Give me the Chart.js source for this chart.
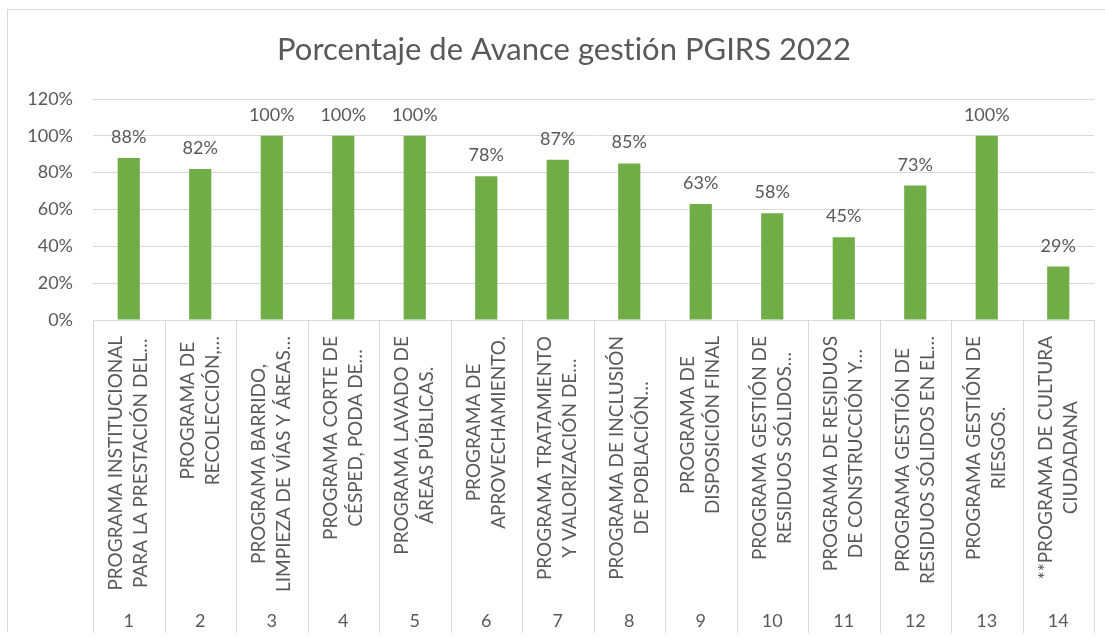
<!DOCTYPE html>
<html>
<head>
<meta charset="utf-8">
<script src="https://cdn.jsdelivr.net/npm/chart.js@4.4.0/dist/chart.umd.min.js"></script>
<style>
  html, body { margin: 0; padding: 0; background: #fff; overflow: hidden; }
  #wrap {
    position: absolute; left: 7px; top: 9px;
    width: 1112px; height: 623px;
    border-left: 1px solid #d9d9d9; border-top: 1px solid #d9d9d9;
    box-sizing: border-box;
  }
  canvas { display: block; }
</style>
</head>
<body>
<div id="wrap"><canvas id="chart" width="1112" height="623"></canvas></div>
<script>
// Datos del gráfico
const programNumbers = ["1", "2", "3", "4", "5", "6", "7", "8", "9", "10", "11", "12", "13", "14"];
const programNames = [
  ["PROGRAMA INSTITUCIONAL", "PARA LA PRESTACIÓN DEL…"],
  ["PROGRAMA DE", "RECOLECCIÓN,…"],
  ["PROGRAMA BARRIDO,", "LIMPIEZA DE VÍAS Y ÁREAS…"],
  ["PROGRAMA CORTE DE", "CÉSPED, PODA DE…"],
  ["PROGRAMA LAVADO DE", "ÁREAS PÚBLICAS."],
  ["PROGRAMA DE", "APROVECHAMIENTO."],
  ["PROGRAMA TRATAMIENTO", "Y VALORIZACIÓN DE…"],
  ["PROGRAMA DE INCLUSIÓN", "DE POBLACIÓN…"],
  ["PROGRAMA DE", "DISPOSICIÓN FINAL"],
  ["PROGRAMA GESTIÓN DE", "RESIDUOS SÓLIDOS…"],
  ["PROGRAMA DE RESIDUOS", "DE CONSTRUCCIÓN Y…"],
  ["PROGRAMA GESTIÓN DE", "RESIDUOS SÓLIDOS EN EL…"],
  ["PROGRAMA GESTIÓN DE", "RIESGOS."],
  ["**PROGRAMA DE CULTURA", "CIUDADANA"]
];
const avance = [88, 82, 100, 100, 100, 78, 87, 85, 63, 58, 45, 73, 100, 29];
const yTicks = [0, 20, 40, 60, 80, 100, 120];

const titleText = "Porcentaje de Avance gestión PGIRS 2022";
const textColor = "#595959";
const gridColor = "#d9d9d9";
const fontFamily = "Lato, 'Open Sans', sans-serif";

// Titulo, etiquetas de datos y eje de categorias de dos niveles
const excelLook = {
  id: "excelLook",
  afterDraw(chart) {
    const { ctx, chartArea } = chart;
    const x = chart.scales.x;
    const n = programNumbers.length;
    const w = (chartArea.right - chartArea.left) / n;

    ctx.save();
    // titulo (sin ligadura "ti" de Lato)
    ctx.fillStyle = textColor;
    ctx.font = "31px " + fontFamily;
    ctx.textAlign = "center";
    ctx.textBaseline = "alphabetic";
    ctx.fillText(titleText.replace(/ti/g, "t\u200Ci"), chart.width / 2, 50);

    // valores sobre las barras
    ctx.font = "18px " + fontFamily;
    chart.getDatasetMeta(0).data.forEach((bar, i) => {
      ctx.fillText(avance[i] + "%", bar.x, bar.y - 15);
    });

    // separadores verticales
    ctx.strokeStyle = gridColor;
    ctx.lineWidth = 1;
    for (let i = 0; i <= n; i++) {
      const px = Math.round(chartArea.left + i * w) + 0.5;
      ctx.beginPath();
      ctx.moveTo(px, chartArea.bottom);
      ctx.lineTo(px, x.bottom);
      ctx.stroke();
    }

    // textos rotados
    ctx.font = "19px " + fontFamily;
    const blockTop = chartArea.bottom + 16;
    const lineGap = 25;
    programNames.forEach((lines, i) => {
      const cx = x.getPixelForValue(i);
      const W = Math.max(...lines.map(l => ctx.measureText(l).width));
      ctx.save();
      ctx.translate(cx, blockTop);
      ctx.rotate(-Math.PI / 2);
      ctx.textAlign = "center";
      ctx.textBaseline = "middle";
      lines.forEach((l, j) => {
        const off = (j - (lines.length - 1) / 2) * lineGap;
        ctx.fillText(l, -W / 2, off);
      });
      ctx.restore();
    });

    // numeros
    ctx.font = "18px " + fontFamily;
    ctx.textAlign = "center";
    ctx.textBaseline = "middle";
    programNumbers.forEach((num, i) => {
      ctx.fillText(num, x.getPixelForValue(i), 611);
    });
    ctx.restore();
  }
};

new Chart(document.getElementById("chart"), {
  type: "bar",
  data: {
    labels: programNumbers,
    datasets: [{
      data: avance,
      backgroundColor: "#70ad47",
      borderWidth: 0,
      barPercentage: 0.31,
      categoryPercentage: 1
    }]
  },
  options: {
    responsive: false,
    animation: false,
    layout: { padding: { top: 89, left: 0, right: 26, bottom: 0 } },
    plugins: {
      legend: { display: false },
      tooltip: { enabled: false }
    },
    scales: {
      x: {
        offset: true,
        grid: { display: false },
        border: { display: false },
        ticks: { display: false },
        afterFit(scale) { scale.height = 313; }
      },
      y: {
        min: 0,
        max: 120,
        afterBuildTicks(scale) { scale.ticks = yTicks.map(v => ({ value: v })); },
        grid: { color: gridColor, drawTicks: false },
        border: { display: false },
        ticks: {
          color: textColor,
          padding: 20,
          font: { family: fontFamily, size: 18 },
          callback: v => v + "%"
        },
        afterFit(scale) { scale.width = 85; }
      }
    }
  },
  plugins: [excelLook]
});
</script>
</body>
</html>
